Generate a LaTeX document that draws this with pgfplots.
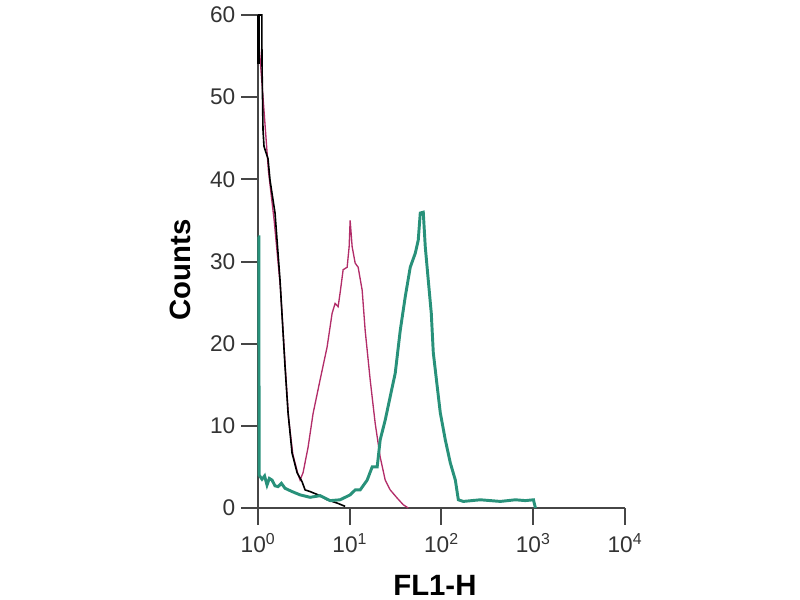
\documentclass[border=0pt]{standalone}
\usepackage{pgfplots}
\pgfplotsset{compat=1.18}
\usepackage{fontspec}
\setmainfont{Liberation Sans}
\definecolor{tealc}{RGB}{40,145,122}
\definecolor{pinkc}{RGB}{178,45,105}
\definecolor{axc}{RGB}{70,70,70}
\begin{document}
\begin{tikzpicture}
\path[use as bounding box] (0,0) rectangle (600pt,450pt);
\begin{axis}[
  at={(193.5pt,69pt)}, anchor=south west,
  width=275.25pt, height=369.75pt, scale only axis,
  xmode=log, xmin=1, xmax=10000, ymin=0, ymax=60,
  axis x line=bottom, axis y line=left,
  axis line style={-, line width=1.5pt, draw=axc},
  tick align=outside, major tick length=12.5pt,
  every tick/.style={line width=1.5pt, draw=axc},
  xtick={1,10,100,1000,10000},
  xticklabels={10\textsuperscript{0},10\textsuperscript{1},10\textsuperscript{2},10\textsuperscript{3},10\textsuperscript{4}},
  ytick={0,10,20,30,40,50,60},
  minor xtick={}, minor tick length=0pt,
  /pgf/number format/assume math mode=true,
  tick label style={font=\fontsize{17}{19}\selectfont, text=black!80},
  yticklabel style={xshift=-1pt},
  xticklabel style={yshift=-3pt},
  xlabel={FL1-H}, ylabel={Counts},
  label style={font=\fontsize{22}{26}\selectfont\bfseries},
  xlabel style={at={(rel axis cs:0.482,-0.156)}, anchor=center},
  ylabel style={at={(rel axis cs:-0.2125,0.483)}, anchor=center},
  clip=false,
]
% pink
\addplot[pinkc, line width=1pt] coordinates {
(1.0,58) (1.1,52) (1.3,41) (1.5,35) (1.75,27) (2.0,16.5) (2.15,11) (2.4,6.5) (2.7,4.3) (2.874,3.4)
(3.099,4.3) (3.515,7.4) (3.985,11.5) (4.752,15.6) (5.666,19.6) (6.425,23.7) (6.928,24.9) (7.469,24.5)
(7.857,26.2) (8.472,29.0) (9.368,29.3) (9.849,31.8) (10.10,35.0) (10.62,31.8) (11.46,29.8) (12.35,29.3)
(13.66,26.5) (14.73,21.6) (16.70,15.6) (18.94,10.3) (21.47,6.2) (24.35,3.4) (27.61,2.2) (32.93,1.2)
(38.28,0.4) (43.4,0)
};
% black
\addplot[black, line width=1.2pt] coordinates {
(1.0,60) (1.1,60) (1.106,54) (1.12,50) (1.134,46) (1.163,44) (1.286,42.5) (1.352,39.9) (1.533,35.9)
(1.739,27.7) (1.971,17.2) (2.126,11.6) (2.350,6.7) (2.666,4.3) (3.022,3.2) (3.261,2.2) (3.696,2.0)
(4.752,1.5) (5.666,1.0) (7.287,0.6) (8.91,0.2)
};
\addplot[black, line width=2pt] coordinates {(1.02,60) (1.02,54)};
% teal
\addplot[tealc, line width=2.2pt] coordinates {
(1.0,33) (1.02,33) (1.03,4) (1.106,3.5) (1.18,3.9) (1.254,2.8) (1.33,3.6) (1.422,3.4) (1.53,2.7) (1.653,2.6)
(1.8,3.0) (1.971,2.4) (2.350,2.0) (2.874,1.6) (3.696,1.3) (4.752,1.5) (6.11,0.9) (7.857,1.0)
(10.10,1.6) (11.46,2.2) (12.99,2.2) (15.49,3.4) (17.56,5.0) (19.91,5.0) (21.47,8.3) (24.35,10.7)
(29.03,14.7) (31.31,16.4) (35.50,21.6) (40.25,25.7) (45.64,29.3) (51.76,31.0) (55.8,32.6) (58.7,35.9)
(63.3,36.0) (66.55,31.8) (71.8,27.7) (77.4,23.7) (81.4,18.9) (90.0,14.7) (97.0,11.6) (110.0,8.3)
(124.7,5.5) (141.5,3.4) (152.6,1.0) (173,0.8) (265,1.0) (438,0.8) (639,1.0) (822,0.9) (1005,1.0) (1057,0)
};
\end{axis}
\end{tikzpicture}
\end{document}
